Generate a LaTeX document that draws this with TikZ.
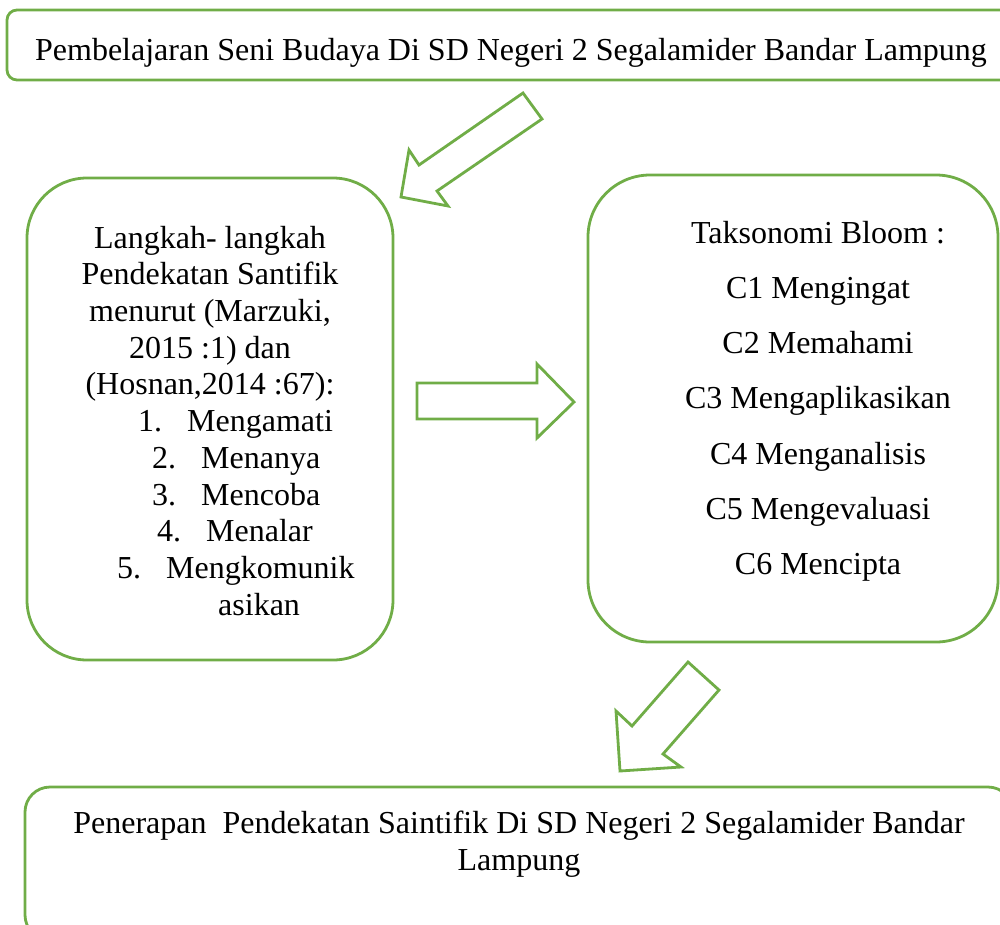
\documentclass[tikz,border=0pt]{standalone}
\usepackage{fontspec}
\setmainfont{Liberation Serif}
\definecolor{hijau}{HTML}{70AD47}
\tikzset{
  kotak/.style={draw=hijau, line width=2.8pt},
  panah/.style={draw=hijau, line width=2.8pt, fill=white, line join=miter},
  teks/.style={anchor=base, inner sep=0pt, font=\fontsize{32}{37}\selectfont},
}

\begin{document}
\begin{tikzpicture}[x=1pt,y=-1pt]
    \useasboundingbox (0,0) rectangle (1000,924);
    \clip (0,0) rectangle (1000,924);

    % judul
    \draw[kotak, rounded corners=10pt] (7,10) rectangle (1030,80);
    \node[teks] (judul) at (511,60) {Pembelajaran Seni Budaya Di SD Negeri 2 Segalamider Bandar Lampung};

    % langkah saintifik
    \draw[kotak, rounded corners=60pt] (27,178) rectangle (393,660);
    \node[teks] (kiri1) at (210,248) {Langkah- langkah};
    \node[teks] (kiri2) at (210,284.7) {Pendekatan Santifik};
    \node[teks] (kiri3) at (210,321.4) {menurut (Marzuki,};
    \node[teks] (kiri4) at (210,358) {2015 :1) dan};
    \node[teks] (kiri5) at (210,394.8) {(Hosnan,2014 :67):};
    \foreach \x/\y/\n/\t [count=\i] in {138/431.5/1./Mengamati, 152/468/2./Menanya,
        152/505/3./Mencoba, 157/541.6/4./Menalar, 117/578.3/5./Mengkomunik}
        \node[teks, anchor=base west] (langkah\i) at (\x,\y) {\makebox[49pt][l]{\n}\t};
    \node[teks, anchor=base west] (langkah6) at (218,615) {asikan};

    % taksonomi bloom
    \draw[kotak, rounded corners=62pt] (588,175) rectangle (998,642);
    \foreach \t [count=\i] in {Taksonomi Bloom :, C1 Mengingat, C2 Memahami,
        C3 Mengaplikasikan, C4 Menganalisis, C5 Mengevaluasi, C6 Mencipta}
        \node[teks] (bloom\i) at (818,{243+55.3*(\i-1)}) {\t};

    % penerapan
    \draw[kotak, rounded corners=25pt] (25,787) rectangle (1013,940);
    \node[teks] (hasil1) at (519,833) {Penerapan\ \ Pendekatan Saintifik Di SD Negeri 2 Segalamider Bandar};
    \node[teks] (hasil2) at (519,870) {Lampung};

    % panah blok
    \draw[panah] (523,93) -- (542,119) -- (437,191) -- (448,206) -- (401,197) -- (409,150) -- (419,165) -- cycle;
    \draw[panah] (417,383) -- (537,383) -- (537,364) -- (574,402) -- (537,438) -- (537,419) -- (417,419) -- cycle;
    \draw[panah] (688,662) -- (719,690) -- (663,754) -- (681,767) -- (620,771) -- (616,711) -- (632,726) -- cycle;
\end{tikzpicture}
\end{document}
